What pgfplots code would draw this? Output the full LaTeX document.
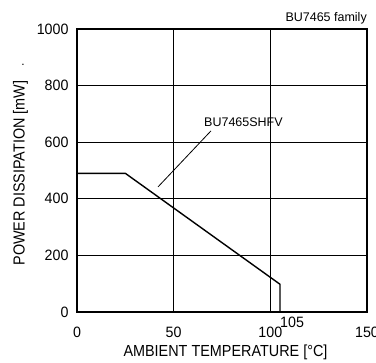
\documentclass[border=0pt]{standalone}
\usepackage{pgfplots}
\pgfplotsset{compat=1.18}
\usepackage{fontspec}
\setmainfont{Liberation Sans}
\newfontfamily\labelfont[FakeStretch=0.9]{Liberation Sans}
\newfontfamily\tickfont[FakeStretch=0.95]{Liberation Sans}

\begin{document}
\begin{tikzpicture}
\begin{axis}[
  scale only axis, width=290pt, height=283pt,
  xmin=0, xmax=150, ymin=0, ymax=1000,
  xtick={0,50,100,150}, ytick={0,200,...,1000},
  grid=major, major grid style={black, line width=0.8pt},
  major tick length=0pt,
  axis line style={line width=1.6pt},
  /pgf/number format/assume math mode=true,
  /pgf/number format/1000 sep={},
  tick label style={font=\tickfont\fontsize{15}{18}\selectfont},
  xticklabel style={yshift=-12pt},
  yticklabel style={xshift=-5pt},
  xlabel={AMBIENT TEMPERATURE [°C]},
  ylabel={POWER DISSIPATION [mW]},
  label style={font=\labelfont\fontsize{16}{19}\selectfont},
  xlabel style={at={(axis description cs:0.512,-0.141)}, anchor=center},
  ylabel style={at={(axis description cs:-0.195,0.491)}, anchor=center},
  clip=false,
]
% derating curve
\addplot[black, line width=1.4pt] coordinates {
  (0,490) (25,490) (105,98) (105,0)
};
% annotation
\draw[black, line width=0.8pt] (axis cs:69.3,640) -- (axis cs:41.9,442);
\node[anchor=west, inner sep=0, font=\fontsize{12.5}{15}\selectfont]
  at (axis cs:65.7,671) {BU7465SHFV};
\node[anchor=east, inner sep=0, yshift=11pt, font=\fontsize{12.5}{15}\selectfont]
  at (rel axis cs:1,1) {BU7465 family};
\node[inner sep=0, font=\fontsize{12}{14}\selectfont] at (rel axis cs:-0.186,0.873) {.};
\node[anchor=west, inner sep=0, yshift=-10pt, font=\tickfont\fontsize{15}{18}\selectfont]
  at (axis cs:105,0) {105};
\end{axis}
\pgfresetboundingbox
\useasboundingbox (-77pt,-51pt) rectangle (299pt,312pt);
\end{tikzpicture}
\end{document}
